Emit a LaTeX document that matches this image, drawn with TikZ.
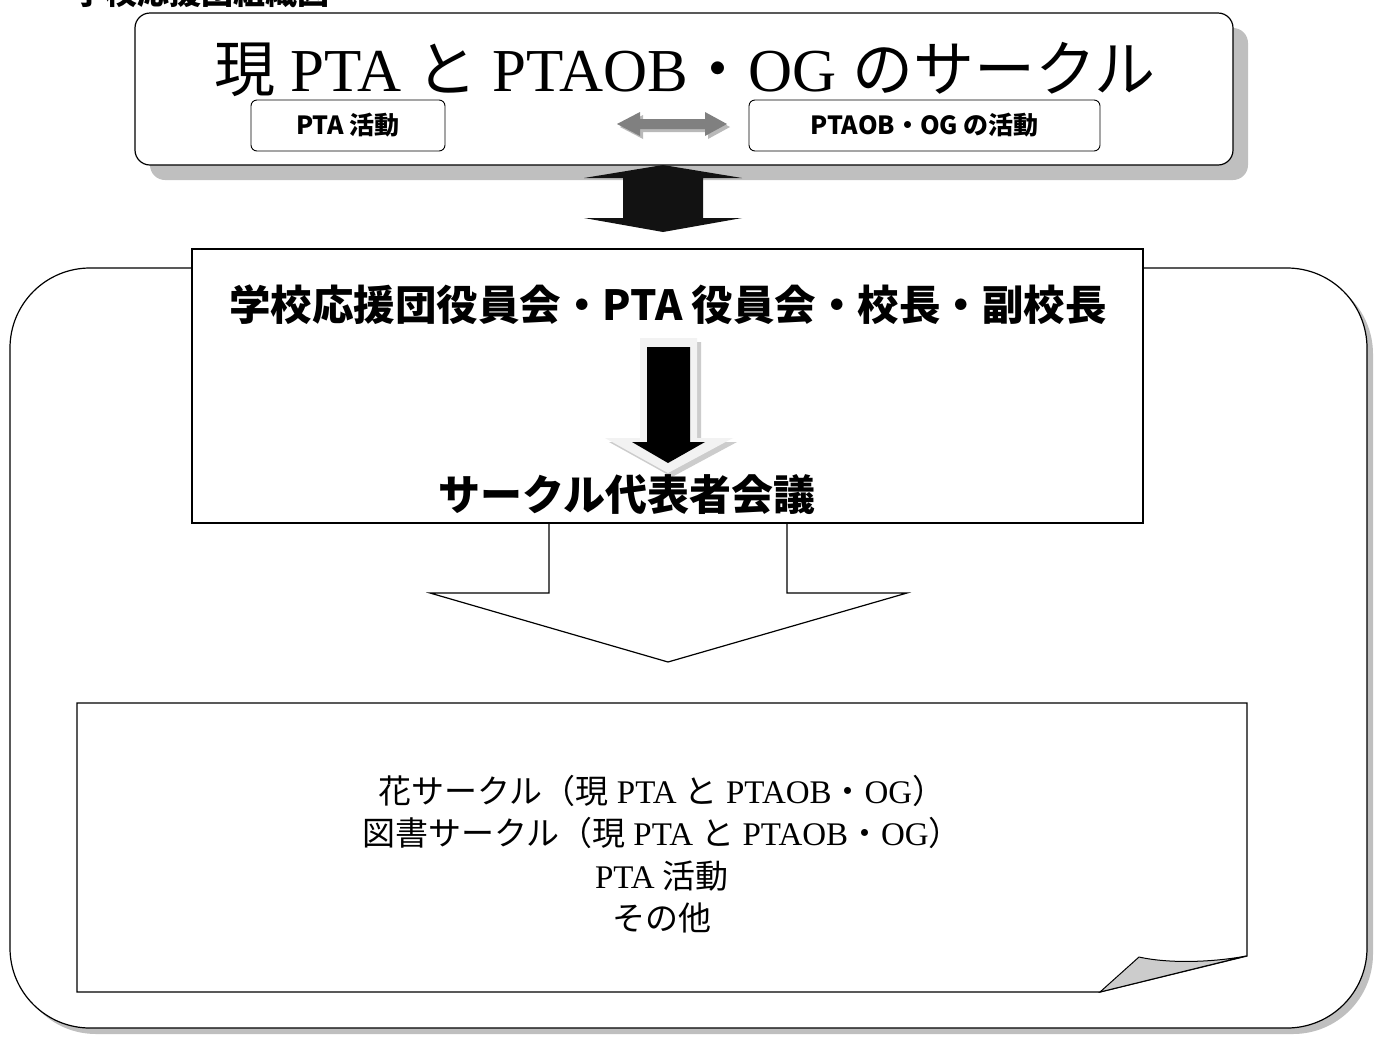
\documentclass[tikz,border=0pt]{standalone}
\usepackage{fontspec}
\setmainfont{Liberation Serif}
\newfontfamily\jpgothic{Noto Sans CJK JP}
\newcommand{\jp}[1]{{\jpgothic #1}}
\usetikzlibrary{positioning}
\definecolor{shadowgray}{HTML}{BFBFBF}
\begin{document}
\begin{tikzpicture}[x=1pt,y=-1pt,
  shadowfill/.style={fill=shadowgray,draw=none},
  box/.style={draw,line width=1.2pt,fill=white,inner sep=0pt},
  subbox/.style={draw,line width=0.9pt,fill=white,rounded corners=6pt,inner sep=0pt,minimum height=51pt,font=\jpgothic\bfseries\fontsize{25}{28}\selectfont}]
\useasboundingbox (0,0) rectangle (1379,1037);
\node[anchor=base west,font=\jpgothic\bfseries\fontsize{32}{32}\selectfont] (heading) at (70,4) {学校応援団組織図};
\fill[shadowfill,rounded corners=80pt] (16,274) rectangle (1373,1034);
\draw[line width=1.2pt,fill=white,rounded corners=80pt] (10,268) rectangle (1367,1028);
\fill[shadowfill,rounded corners=15pt] (150,28) rectangle (1248,180);
\node[box,rounded corners=15pt,minimum width=1098pt,minimum height=152pt] (topbox) at (684,89) {};
\node[font=\fontsize{61}{66}\selectfont] (title) at (685,70) {\jp{現} PTA \jp{と} PTAOB\jp{・}OG \jp{のサークル}};
\node[subbox,minimum width=194pt] (ptawork) at (348,125.5) {PTA 活動};
\node[subbox,minimum width=351pt] (obwork) at (924.5,125.5) {PTAOB・OG の活動};
\fill[gray!55] (620,127) -- (643,115) -- (643,122) -- (708,122) -- (708,115) -- (730,127) -- (708,139) -- (708,132) -- (643,132) -- (643,139) -- cycle;
\fill[gray] (617,124) -- (640,112) -- (640,119) -- (705,119) -- (705,112) -- (727,124) -- (705,136) -- (705,129) -- (640,129) -- (640,136) -- cycle;
\fill[black!93] (663,165) -- (742,178) -- (703,178) -- (703,218) -- (742,218) -- (663,232) -- (584,218) -- (623,218) -- (623,178) -- (584,178) -- cycle;
\draw[line width=1.2pt,fill=white] (549,523) -- (549,593) -- (430,593) -- (668,662) -- (907,593) -- (787,593) -- (787,523);
\node[box,minimum width=951pt,minimum height=274pt] (council) at (667.5,386) {};
\node[font=\jpgothic\bfseries\fontsize{41.5}{48}\selectfont] (board) at (668,305) {学校応援団役員会・PTA 役員会・校長・副校長};
\fill[gray!40] (644,342) -- (701,342) -- (701,442) -- (737,442) -- (672,477) -- (609,442) -- (644,442) -- cycle;
\fill[gray!10] (640,338) -- (697,338) -- (697,438) -- (733,438) -- (668,473) -- (605,438) -- (640,438) -- cycle;
\fill[black] (647,347) -- (690,347) -- (690,442) -- (705,442) -- (668,463) -- (632,442) -- (647,442) -- cycle;
\node[font=\jpgothic\bfseries\fontsize{42}{46}\selectfont] (reps) at (627,495) {サークル代表者会議};
\draw[line width=1.2pt,fill=white] (77,703) -- (1247,703) -- (1247,956) -- (1100,992) -- (77,992) -- cycle;
\draw[line width=1pt,fill=gray!40] (1100,992) -- (1139,957) .. controls (1170,964) and (1215,962) .. (1246,956) -- cycle;
\node[align=center,font=\fontsize{33}{42.5}\selectfont] (circles) at (662,854) {\jp{花サークル（現} PTA \jp{と} PTAOB\jp{・}OG\jp{）}\\
  \jp{図書サークル（現} PTA \jp{と} PTAOB\jp{・}OG\jp{）}\\
  PTA \jp{活動}\\
  \jp{その他}};
\end{tikzpicture}
\end{document}
